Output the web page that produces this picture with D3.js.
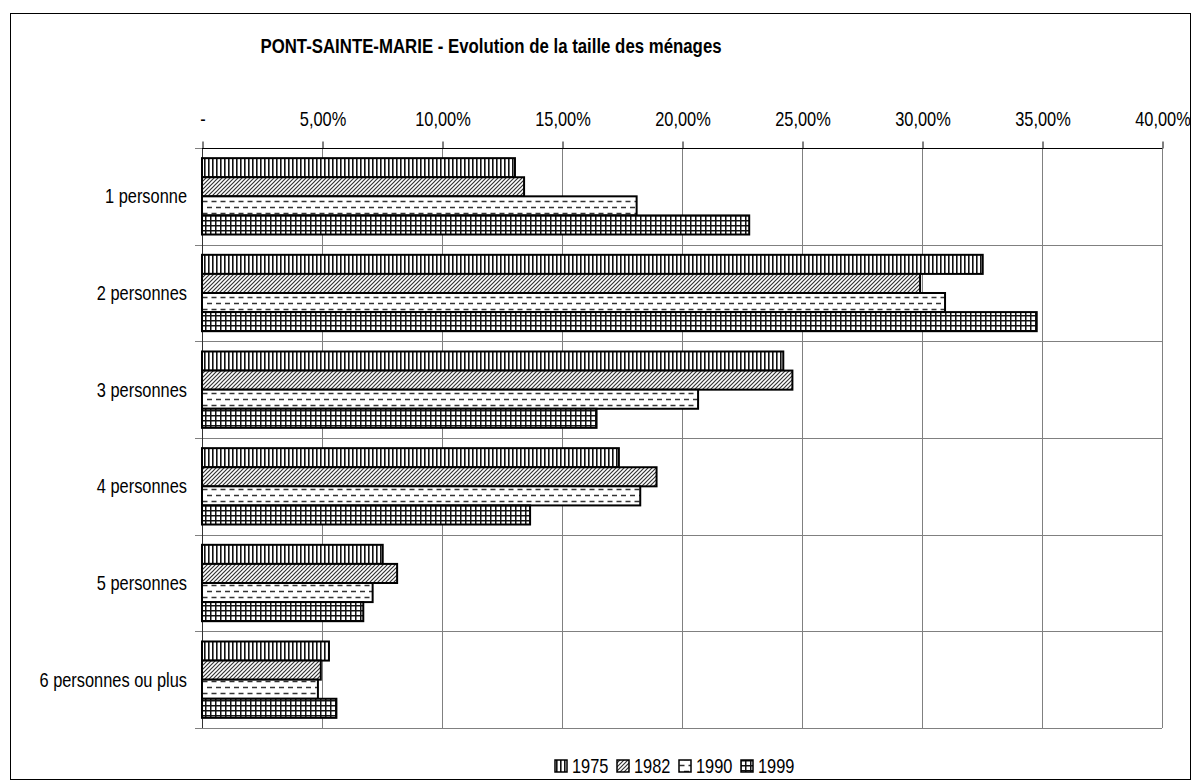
<!DOCTYPE html>
<html>
<head>
<meta charset="utf-8">
<script src="https://cdn.jsdelivr.net/npm/d3@7"></script>
<style>
  body { margin: 0; background: #fff; }
  svg { display: block; }
  text { font-family: 'Liberation Sans', Arial, sans-serif; fill: #000; }
</style>
</head>
<body>
<svg id="chart" width="1202" height="782"></svg>
<script>
// categories and series (share of households, %)
var categories = ['1 personne', '2 personnes', '3 personnes', '4 personnes', '5 personnes', '6 personnes ou plus']
var years = ['1975', '1982', '1990', '1999']
var v1975 = [13.04, 32.53, 24.22, 17.37, 7.53, 5.29]
var v1982 = [13.42, 29.92, 24.60, 18.94, 8.13, 4.95]
var v1990 = [18.11, 30.96, 20.67, 18.26, 7.11, 4.83]
var v1999 = [22.80, 34.78, 16.44, 13.67, 6.72, 5.60]
var tickValues = [0, 5, 10, 15, 20, 25, 30, 35, 40]
var title = 'PONT-SAINTE-MARIE - Evolution de la taille des ménages'

var series = [v1975, v1982, v1990, v1999]
var svg = d3.select('#chart')
// no narrow font installed, so squeeze regular sans horizontally
var squeeze = 'scale(0.82,1)'

// chart frame
svg.append('rect')
  .attr('x', 10.5).attr('y', 13.5)
  .attr('width', 1180).attr('height', 766)
  .attr('fill', '#fff').attr('stroke', '#000')

// patterns for the four years
var defs = svg.append('defs')
var p1 = defs.append('pattern').attr('id', 'pat0').attr('patternUnits', 'userSpaceOnUse')
  .attr('width', 4).attr('height', 4)
p1.append('rect').attr('width', 4).attr('height', 4).attr('fill', '#fff')
p1.append('rect').attr('x', 0).attr('width', 1.6).attr('height', 4).attr('fill', '#111')

var p2 = defs.append('pattern').attr('id', 'pat1').attr('patternUnits', 'userSpaceOnUse')
  .attr('width', 4).attr('height', 4)
p2.append('rect').attr('width', 4).attr('height', 4).attr('fill', '#fff')
p2.append('path').attr('d', 'M-1,5 L5,-1 M-1,1 L1,-1 M3,5 L5,3')
  .attr('stroke', '#333').attr('stroke-width', 1.2)

var p3 = defs.append('pattern').attr('id', 'pat2').attr('patternUnits', 'userSpaceOnUse')
  .attr('width', 9).attr('height', 12)
p3.append('rect').attr('width', 9).attr('height', 12).attr('fill', '#fff')
p3.append('path').attr('d', 'M0,3.5 H5 M4.5,9.5 H9.5 M-0.5,9.5 H0.5')
  .attr('stroke', '#333').attr('stroke-width', 1.3)

var p4 = defs.append('pattern').attr('id', 'pat3').attr('patternUnits', 'userSpaceOnUse')
  .attr('width', 5).attr('height', 5)
p4.append('rect').attr('width', 5).attr('height', 5).attr('fill', '#fff')
p4.append('rect').attr('x', 0).attr('width', 1.5).attr('height', 5).attr('fill', '#111')
p4.append('rect').attr('y', 0).attr('width', 5).attr('height', 1.5).attr('fill', '#111')

// plot area
var plotL = 202, plotR = 1162, plotT = 148, plotB = 728

var x = d3.scaleLinear().domain([0, 40]).range([plotL, plotR])
var y = d3.scaleBand().domain(categories).range([plotT, plotB])
  .paddingInner(0.21).paddingOuter(0.105)
var y1 = d3.scaleBand().domain(years).range([0, y.bandwidth()])
var step = y.step()

// title
svg.append('text')
  .attr('transform', 'translate(491,53) ' + squeeze)
  .attr('text-anchor', 'middle')
  .style('font-size', '20.5px').style('font-weight', 'bold')
  .text(title)

// vertical gridlines
svg.append('g').selectAll('line')
  .data(tickValues.slice(1))
  .enter().append('line')
  .attr('x1', (d) => Math.round(x(d)) + 0.5).attr('x2', (d) => Math.round(x(d)) + 0.5)
  .attr('y1', plotT).attr('y2', plotB)
  .attr('stroke', '#808080')

// horizontal category separators (with left ticks)
var sep = d3.range(categories.length + 1).map((i) => plotT + i * step)
svg.append('g').selectAll('line')
  .data(sep)
  .enter().append('line')
  .attr('x1', plotL - 7).attr('x2', plotR)
  .attr('y1', (d) => Math.round(d) + 0.5).attr('y2', (d) => Math.round(d) + 0.5)
  .attr('stroke', '#808080')

// left axis line
svg.append('line')
  .attr('x1', plotL + 0.5).attr('x2', plotL + 0.5)
  .attr('y1', plotT).attr('y2', plotB)
  .attr('stroke', '#333')

// top axis
var xAxis = d3.axisTop(x)
  .tickValues(tickValues)
  .tickSize(7)
  .tickPadding(16)
  .tickFormat((d) => d === 0 ? '-' : d3.format('.2f')(d).replace('.', ',') + '%')
var gx = svg.append('g')
  .attr('transform', 'translate(0.5,' + (plotT + 0.5) + ')')
  .call(xAxis)
gx.select('.domain').attr('d', 'M' + (plotL - 0.5) + ',0H' + (plotR - 0.5)).attr('stroke', '#000')
gx.selectAll('.tick line').attr('stroke', '#000')
gx.selectAll('.tick text')
  .attr('transform', squeeze)
  .attr('font-family', null)
  .style('font-size', '20px')
gx.attr('font-size', null)

// category labels
svg.append('g').selectAll('text')
  .data(categories)
  .enter().append('text')
  .attr('transform', (d) => 'translate(187,' + (y(d) + y.bandwidth() / 2) + ') ' + squeeze)
  .attr('dy', '0.35em')
  .attr('text-anchor', 'end')
  .style('font-size', '20px')
  .text((d) => d)

// bars
years.forEach(function (yr, j) {
  svg.append('g').selectAll('rect')
    .data(categories)
    .enter().append('rect')
    .attr('x', plotL)
    .attr('y', (d) => y(d) + y1(yr))
    .attr('width', (d, i) => x(series[j][i]) - plotL)
    .attr('height', y1.bandwidth())
    .attr('fill', 'url(#pat' + j + ')')
    .attr('stroke', '#000')
    .attr('stroke-width', 2)
})

// legend
var lg = svg.append('g')
years.forEach(function (yr, j) {
  var lx = 555 + j * 62
  lg.append('rect')
    .attr('x', lx).attr('y', 760)
    .attr('width', 12).attr('height', 12)
    .attr('fill', 'url(#pat' + j + ')')
    .attr('stroke', '#000').attr('stroke-width', 1.5)
  lg.append('text')
    .attr('transform', 'translate(' + (lx + 17) + ',773) ' + squeeze)
    .style('font-size', '20px')
    .text(yr)
})
</script>
</body>
</html>
